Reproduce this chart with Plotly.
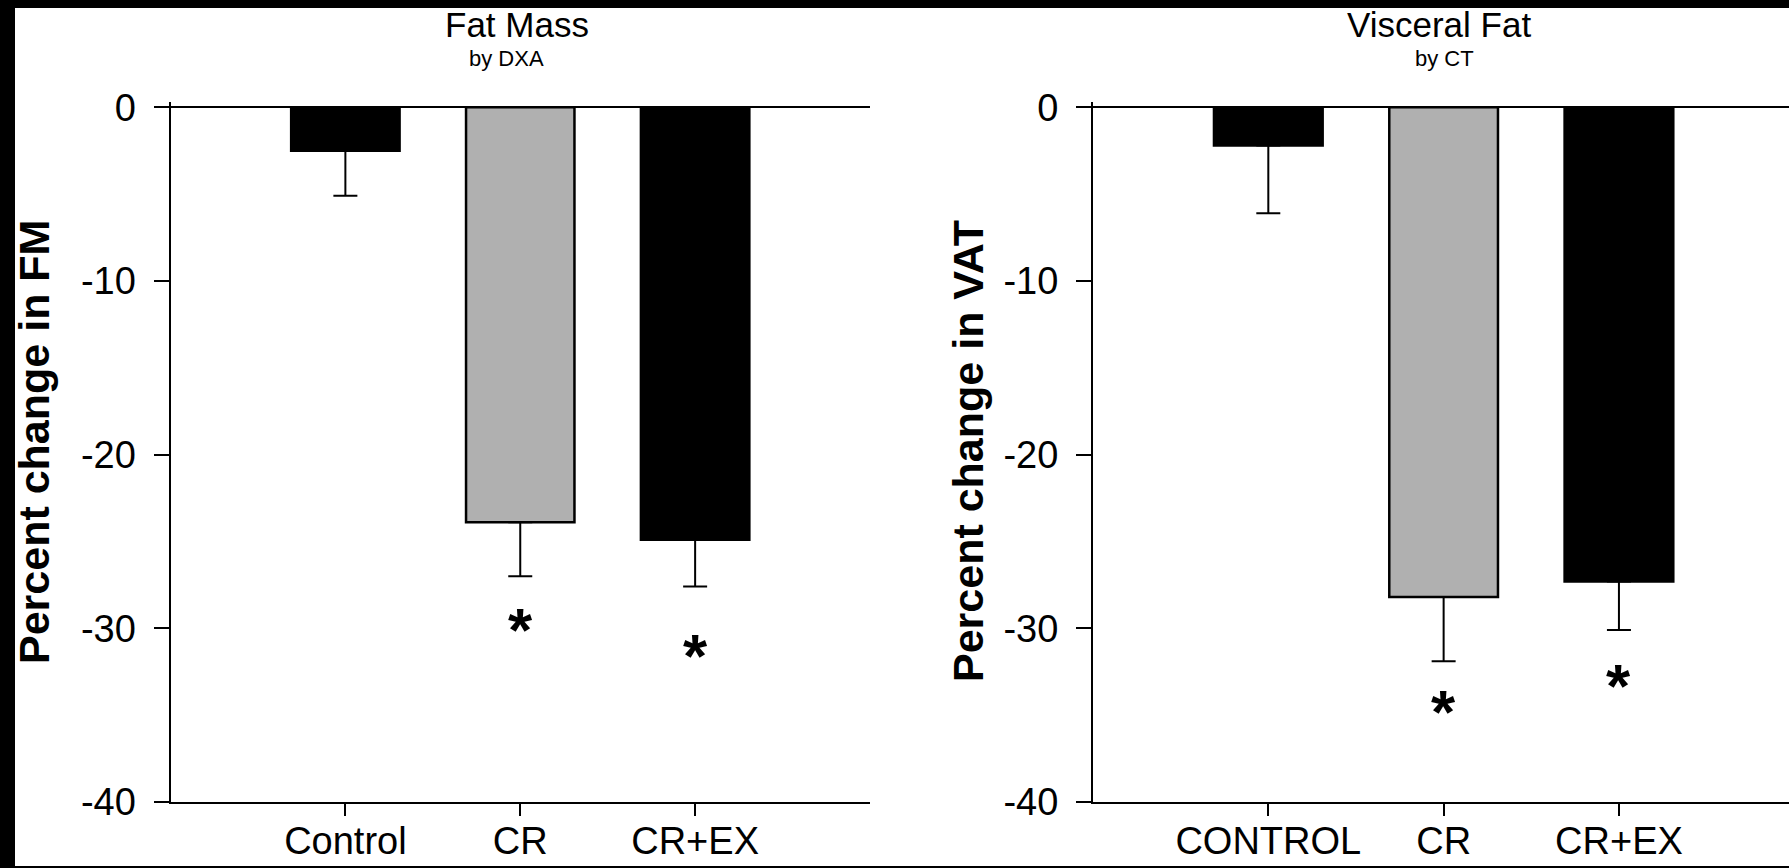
import plotly.graph_objects as go

# ---- data -------------------------------------------------------------
fm_groups = ["Control", "CR", "CR+EX"]
fm_change = [-2.5, -23.9, -24.9]        # percent change in fat mass (DXA)
fm_se = [2.6, 3.1, 2.7]
fm_star = [None, -29.5, -31.0]          # significance marks below the bars

vat_groups = ["CONTROL", "CR", "CR+EX"]
vat_change = [-2.2, -28.2, -27.3]       # percent change in visceral fat (CT)
vat_se = [3.9, 3.7, 2.8]
vat_star = [None, -34.2, -32.7]

bar_colors = ["#000000", "#b0b0b0", "#000000"]
y_tickvals = [0, -10, -20, -30, -40]
y_ticktext = ["0", "-10", "-20", "-30", "-40"]

# ---- page geometry (pixels) -------------------------------------------
W, H = 1789, 868
FONT = "Liberation Sans, Arial, sans-serif"


def px_x(x):
    return x / W


def px_y(y):
    return 1 - y / H


y_dom = [px_y(802), px_y(102)]
panels = [
    dict(groups=fm_groups, change=fm_change, se=fm_se, star=fm_star,
         dom=[px_x(170.5), px_x(870)], xr=[-1, 3],
         title_x=517, sub_x=506,
         title="Fat Mass", sub="by DXA", ytitle="Percent change in FM",
         ytitle_x=34, ytitle_y=442),
    dict(groups=vat_groups, change=vat_change, se=vat_se, star=vat_star,
         dom=[px_x(1093), 1.0], xr=[-1, 2.97],
         title_x=1439, sub_x=1444,
         title="Visceral Fat", sub="by CT", ytitle="Percent change in VAT",
         ytitle_x=968, ytitle_y=451),
]

fig = go.Figure()
annotations = []

for i, p in enumerate(panels, start=1):
    xa = "x" if i == 1 else f"x{i}"
    ya = "y" if i == 1 else f"y{i}"
    fig.add_trace(go.Bar(
        x=p["groups"], y=p["change"], xaxis=xa, yaxis=ya,
        width=0.62,
        marker=dict(color=bar_colors, line=dict(color="black", width=2.5)),
        error_y=dict(type="data", symmetric=False, array=[0] * len(p["se"]),
                     arrayminus=p["se"], color="black", thickness=2, width=12),
        showlegend=False,
    ))

    axis_font = dict(family=FONT, size=38, color="black")
    fig.layout[f"xaxis{'' if i == 1 else i}"] = dict(
        domain=p["dom"], range=p["xr"], anchor=ya, type="category",
        showline=True, linecolor="black", linewidth=2,
        ticks="outside", ticklen=12, tickwidth=2, tickcolor="black",
        ticklabelstandoff=-8, automargin=False,
        tickfont=axis_font, showgrid=False, zeroline=False, fixedrange=True,
    )
    fig.layout[f"yaxis{'' if i == 1 else i}"] = dict(
        domain=y_dom, range=[-40, 0.3], anchor=xa, automargin=False,
        showline=True, linecolor="black", linewidth=2,
        ticks="outside", ticklen=15, tickwidth=2, tickcolor="black",
        tickvals=y_tickvals, ticktext=y_ticktext, ticklabelstandoff=10,
        tickfont=axis_font, showgrid=False,
        zeroline=True, zerolinecolor="black", zerolinewidth=2,
    )

    annotations.append(dict(
        text=p["title"], xref="paper", yref="paper", x=px_x(p["title_x"]),
        y=px_y(25), xanchor="center", yanchor="middle", showarrow=False,
        font=dict(family=FONT, size=35, color="black")))
    annotations.append(dict(
        text=p["sub"], xref="paper", yref="paper", x=px_x(p["sub_x"]),
        y=px_y(59), xanchor="center", yanchor="middle", showarrow=False,
        font=dict(family=FONT, size=22, color="black")))
    annotations.append(dict(
        text=p["ytitle"], xref="paper", yref="paper",
        x=px_x(p["ytitle_x"]), y=px_y(p["ytitle_y"]), textangle=-90,
        xanchor="center", yanchor="middle", showarrow=False,
        font=dict(family=FONT, size=43, color="black", weight="bold")))

    for g, s in zip(p["groups"], p["star"]):
        if s is None:
            continue
        annotations.append(dict(
            text="*", xref=xa, yref=ya, x=g, y=s, yshift=-10,
            xanchor="center", yanchor="middle", showarrow=False,
            font=dict(family=FONT, size=62, color="black", weight="bold")))

# dark frame along the left, top and bottom edges
frame = dict(type="rect", xref="paper", yref="paper", layer="above",
             fillcolor="black", line=dict(width=0))
shapes = [
    dict(frame, x0=0, x1=px_x(15), y0=0, y1=1),
    dict(frame, x0=0, x1=1, y0=px_y(8), y1=1),
    dict(frame, x0=0, x1=1, y0=0, y1=px_y(866)),
]

fig.update_layout(
    width=W, height=H, margin=dict(l=0, r=0, t=0, b=0, autoexpand=False),
    paper_bgcolor="white", plot_bgcolor="white",
    annotations=annotations, shapes=shapes, bargap=0.38,
)

fig.write_html("out.html")
